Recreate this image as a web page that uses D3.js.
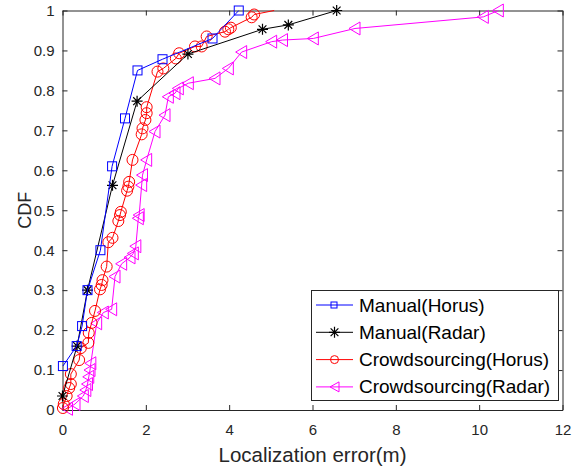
<!DOCTYPE html>
<html>
<head>
<meta charset="utf-8">
<script src="https://cdn.jsdelivr.net/npm/d3@7"></script>
<style>
body { margin: 0; background: #fff; }
svg { font-family: "Liberation Sans", Arial, sans-serif; }
</style>
</head>
<body>
<div id="canvas"></div>
<script>
// data: [x, cdf]
let manualHorus = [[0.01,0.11],[0.34,0.16],[0.47,0.21],[0.6,0.30],[0.91,0.40],[1.19,0.61],[1.5,0.73],[1.8,0.85],[2.4,0.878],[3.6,0.93],[4.23,1.0]];
let manualRadar = [[0.0,0.035],[0.35,0.16],[0.6,0.30],[1.2,0.5625],[1.79,0.773],[3.01,0.891],[4.8,0.953],[5.42,0.964],[6.58,1.0]];
let crowdHorus = [[0.01,0.005],[0.03,0.015],[0.1,0.035],[0.16,0.055],[0.2,0.065],[0.2,0.09],[0.4,0.125],[0.44,0.155],[0.62,0.168],[0.63,0.193],[0.7,0.218],[0.78,0.248],[0.9,0.302],[0.94,0.313],[0.96,0.325],[1.06,0.359],[1.1,0.42],[1.2,0.431],[1.34,0.473],[1.38,0.488],[1.4,0.496],[1.55,0.549],[1.58,0.559],[1.6,0.571],[1.68,0.626],[1.9,0.69],[1.92,0.705],[1.99,0.726],[2.02,0.743],[2.02,0.758],[2.28,0.847],[2.42,0.855],[2.72,0.88],[2.8,0.893],[3.18,0.91],[3.34,0.91],[3.46,0.935],[3.9,0.947],[3.98,0.953],[4.04,0.957],[4.54,0.983],[4.6,0.99],[5.08,1.0]];
let crowdRadar = [[0.12,0.003],[0.3,0.015],[0.5,0.035],[0.56,0.05],[0.6,0.065],[0.63,0.083],[0.66,0.1],[0.68,0.117],[0.82,0.217],[0.98,0.244],[1.18,0.252],[1.26,0.334],[1.42,0.366],[1.62,0.382],[1.7,0.392],[1.76,0.41],[1.82,0.48],[1.84,0.488],[1.9,0.563],[1.92,0.588],[2.02,0.626],[2.22,0.697],[2.46,0.738],[2.54,0.784],[2.7,0.793],[2.78,0.805],[3.02,0.818],[3.66,0.83],[3.98,0.855],[4.3,0.896],[5.02,0.922],[5.28,0.926],[6.02,0.93],[7.02,0.955],[10.1,0.984],[10.46,1.0]];

let seriesNames = ["Manual(Horus)", "Manual(Radar)", "Crowdsourcing(Horus)", "Crowdsourcing(Radar)"];
let seriesColors = ["#0000ff", "#000000", "#ff0000", "#ff00ff"];
let seriesMarkers = ["square", "star", "circle", "triangle"];
let xTicks = [0, 2, 4, 6, 8, 10, 12];
let yTicks = [0, 0.1, 0.2, 0.3, 0.4, 0.5, 0.6, 0.7, 0.8, 0.9, 1];

let width = 583;
let height = 468;
let plotLeft = 62.5, plotRight = 562.5, plotTop = 10.5, plotBottom = 410;

var svg = d3.select("#canvas").append("svg")
    .attr("width", width)
    .attr("height", height);

var xScale = d3.scaleLinear().domain([0, 12]).range([plotLeft, plotRight]);
var yScale = d3.scaleLinear().domain([0, 1]).range([plotBottom, plotTop]);

// axes, ticks pointing inward like matlab
let axisColor = "#262626";
var gx = svg.append("g").attr("transform", "translate(0," + plotBottom + ")")
    .call(d3.axisBottom(xScale).tickValues(xTicks).tickSizeInner(-5).tickSizeOuter(0).tickPadding(14).tickFormat(d3.format("d")));
var gxTop = svg.append("g").attr("transform", "translate(0," + plotTop + ")")
    .call(d3.axisTop(xScale).tickValues(xTicks).tickSizeInner(-5).tickSizeOuter(0).tickFormat(""));
var gy = svg.append("g").attr("transform", "translate(" + plotLeft + ",0)")
    .call(d3.axisLeft(yScale).tickValues(yTicks).tickSizeInner(-5).tickSizeOuter(0).tickPadding(8).tickFormat(d => d === 0 || d === 1 ? d : d.toFixed(1)));
var gyRight = svg.append("g").attr("transform", "translate(" + plotRight + ",0)")
    .call(d3.axisRight(yScale).tickValues(yTicks).tickSizeInner(-5).tickSizeOuter(0).tickFormat(""));

[gx, gxTop, gy, gyRight].forEach(g => {
    g.selectAll("path").attr("stroke", axisColor);
    g.selectAll("line").attr("stroke", axisColor);
    g.selectAll("text").attr("fill", axisColor).style("font-size", "15px").style("font-family", "'Liberation Sans', Arial, sans-serif");
});

// axis labels
svg.append("text")
    .attr("x", (plotLeft + plotRight) / 2)
    .attr("y", 462)
    .attr("text-anchor", "middle")
    .attr("fill", axisColor)
    .style("font-size", "20.5px")
    .text("Localization error(m)");
svg.append("text")
    .attr("transform", "translate(31," + ((plotTop + plotBottom) / 2) + ") rotate(-90)")
    .attr("text-anchor", "middle")
    .attr("fill", axisColor)
    .style("font-size", "18px")
    .text("CDF");

function drawMarker(g, type, x, y, color) {
    if (type === "square") {
        g.append("rect").attr("x", x - 4.5).attr("y", y - 4.5).attr("width", 9).attr("height", 9)
            .attr("fill", "none").attr("stroke", color).attr("stroke-width", 1);
    } else if (type === "circle") {
        g.append("circle").attr("cx", x).attr("cy", y).attr("r", 5.5)
            .attr("fill", "none").attr("stroke", color).attr("stroke-width", 1);
    } else if (type === "triangle") {
        g.append("path").attr("d", "M" + (x - 6) + "," + y + "L" + (x + 5) + "," + (y - 6.5) + "L" + (x + 5) + "," + (y + 6.5) + "Z")
            .attr("fill", "none").attr("stroke", color).attr("stroke-width", 1);
    } else if (type === "star") {
        let r = 5.5;
        let d = "";
        for (let k = 0; k < 4; k++) {
            let a = k * Math.PI / 4;
            d += "M" + (x - r * Math.cos(a)) + "," + (y - r * Math.sin(a)) + "L" + (x + r * Math.cos(a)) + "," + (y + r * Math.sin(a));
        }
        g.append("path").attr("d", d).attr("stroke", color).attr("stroke-width", 1.2);
    }
}

var line = d3.line().x(d => xScale(d[0])).y(d => yScale(d[1]));
let allSeries = [manualHorus, manualRadar, crowdHorus, crowdRadar];

// draw back to front so blue ends on top
for (let s = allSeries.length - 1; s >= 0; s--) {
    let g = svg.append("g");
    g.append("path").datum(allSeries[s])
        .attr("d", line)
        .attr("fill", "none")
        .attr("stroke", seriesColors[s])
        .attr("stroke-width", 1);
    allSeries[s].forEach((p, i) => {
        // last red point sits on the top border without a visible marker
        if (s === 2 && i === allSeries[s].length - 1) return;
        drawMarker(g, seriesMarkers[s], xScale(p[0]), yScale(p[1]), seriesColors[s]);
    });
}

// legend
var lg = svg.append("g");
lg.append("rect").attr("x", 311.5).attr("y", 290.5).attr("width", 247).attr("height", 110)
    .attr("fill", "#fff").attr("stroke", axisColor).attr("stroke-width", 1);
seriesNames.forEach((name, i) => {
    let yy = 305 + i * 27.3;
    lg.append("line").attr("x1", 316).attr("x2", 353).attr("y1", yy).attr("y2", yy)
        .attr("stroke", seriesColors[i]).attr("stroke-width", 1);
    let mg = lg.append("g");
    if (seriesMarkers[i] === "square") {
        mg.append("rect").attr("x", 331).attr("y", yy - 3).attr("width", 6).attr("height", 6)
            .attr("fill", "none").attr("stroke", seriesColors[i]);
    } else if (seriesMarkers[i] === "circle") {
        mg.append("circle").attr("cx", 334.5).attr("cy", yy).attr("r", 4).attr("fill", "none").attr("stroke", seriesColors[i]);
    } else if (seriesMarkers[i] === "triangle") {
        mg.append("path").attr("d", "M" + 330 + "," + yy + "L" + 339 + "," + (yy - 5) + "L" + 339 + "," + (yy + 5) + "Z")
            .attr("fill", "none").attr("stroke", seriesColors[i]);
    } else {
        drawMarker(mg, "star", 334.5, yy, seriesColors[i]);
    }
    lg.append("text").attr("x", 359).attr("y", yy + 6.5)
        .attr("fill", "#000")
        .style("font-size", "19px")
        .text(name);
});
</script>
</body>
</html>
